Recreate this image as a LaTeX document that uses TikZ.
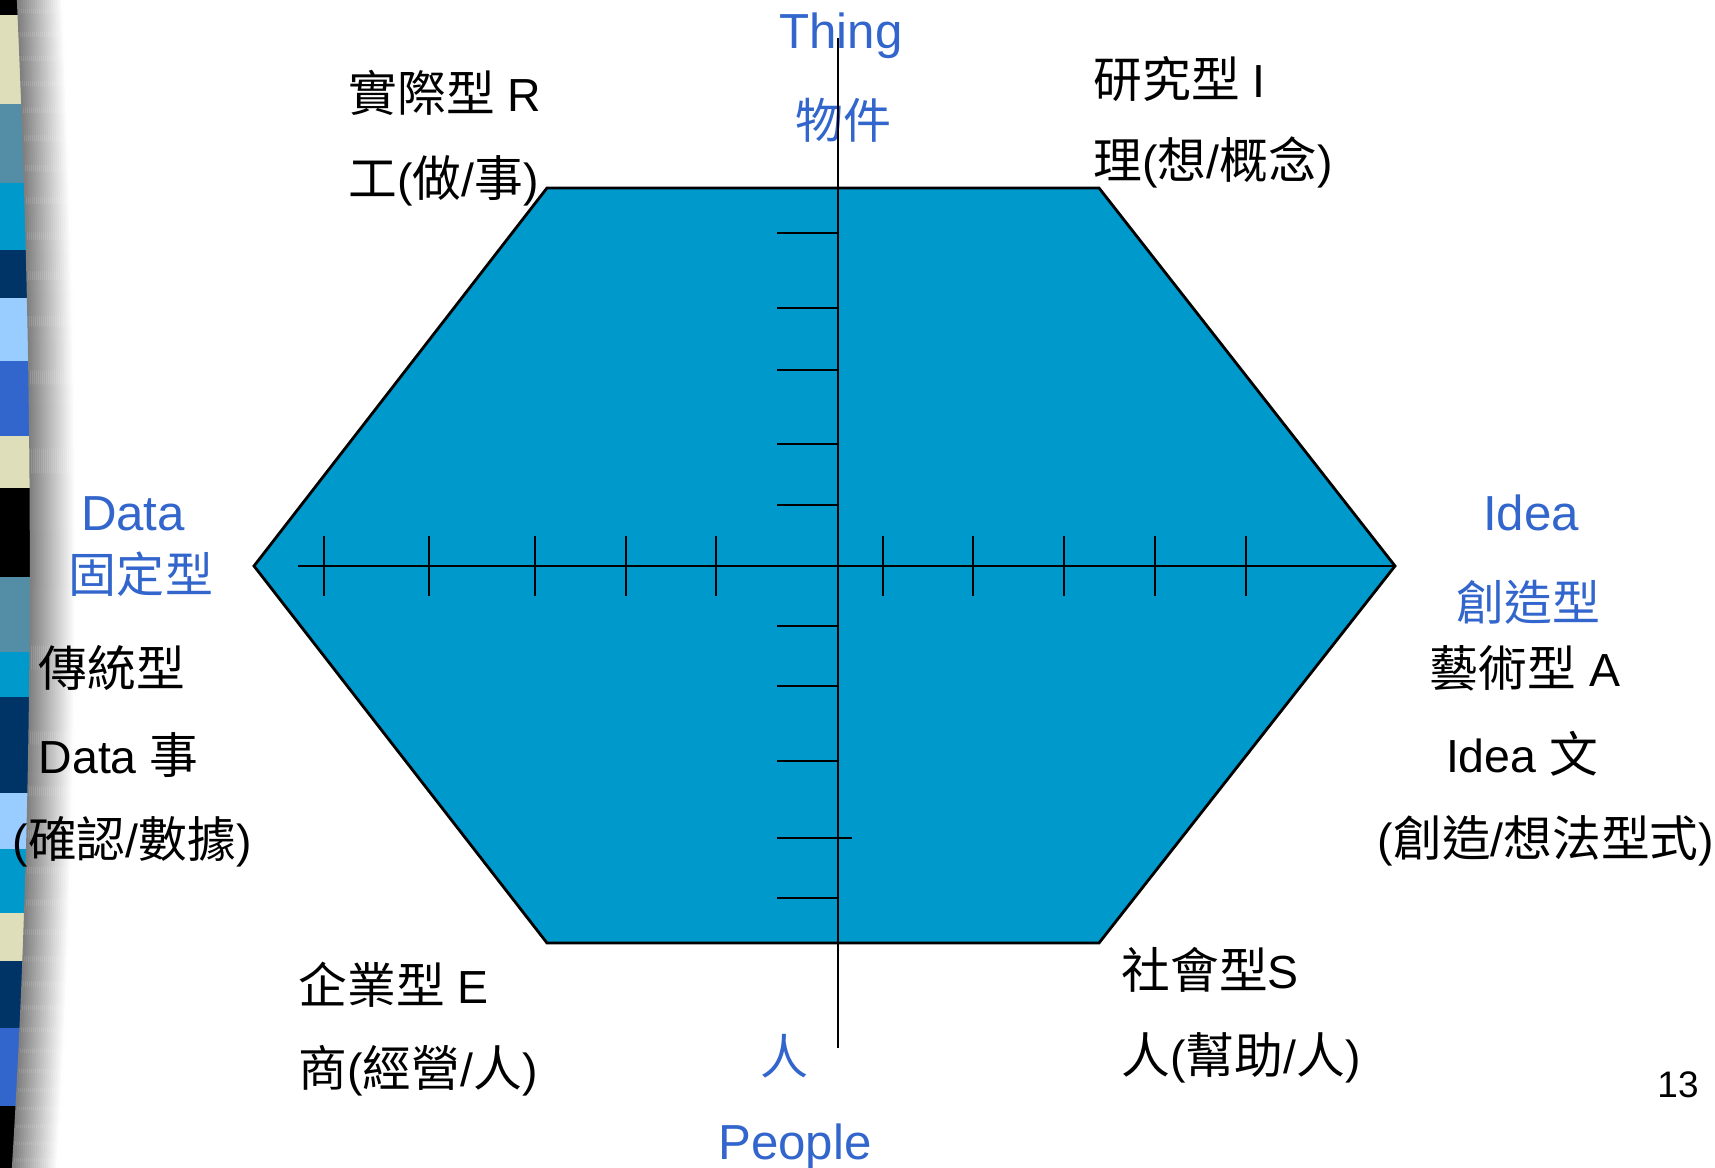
\documentclass[tikz,border=0pt]{standalone}
\usepackage{fontspec}
\setmainfont{Liberation Sans}
\newfontfamily\cjk[Scale=1.05]{Noto Sans CJK TC}
\newcommand{\zh}[1]{{\cjk #1}}
\usetikzlibrary{positioning}
\definecolor{hexblue}{RGB}{0,153,204}
\definecolor{axisblue}{RGB}{51,102,204}
\definecolor{stripbeige}{RGB}{222,222,186}
\definecolor{stripsteel}{RGB}{84,141,166}
\definecolor{stripnavy}{RGB}{0,51,102}
\definecolor{striplight}{RGB}{153,204,255}
\def\hexagon{(547,188) -- (1099,188) -- (1395,566) -- (1099,943) -- (547,943) -- (254,566) -- cycle}
\tikzset{
  lbl/.style = {inner sep=0pt, font=\fontsize{13.2}{15}\selectfont},
  axislbl/.style = {inner sep=0pt, text=axisblue, font=\fontsize{14}{16}\selectfont},
  axiszh/.style = {inner sep=0pt, text=axisblue, font=\fontsize{13}{15}\selectfont},
  tick/.style = {line width=0.6pt}
}

\begin{document}
\begin{tikzpicture}[x=0.01cm, y=-0.01cm]
    % Pagina
    \fill[white] (0,0) rectangle (1715,1168);
    \useasboundingbox (0,0) rectangle (1715,1168);
    % Striscia a sinistra
    \begin{scope}
        \clip (0,0) -- (18,0) .. controls (36,400) and (36,800) .. (13,1168) -- (0,1168) -- cycle;
        \foreach \ya/\yb/\col in {0/15/black, 15/104/stripbeige, 104/183/stripsteel, 183/250/hexblue,
            250/298/stripnavy, 298/361/striplight, 361/436/axisblue, 436/488/stripbeige, 488/577/black,
            577/652/stripsteel, 652/697/hexblue, 697/793/stripnavy, 793/849/striplight, 849/913/hexblue,
            913/961/stripbeige, 961/1028/stripnavy, 1028/1106/axisblue, 1106/1168/black}
            \fill[\col] (0,\ya) rectangle (40,\yb);
    \end{scope}
    % Ombra della striscia
    \foreach \i in {0,...,22}{
        \pgfmathsetmacro{\sh}{50-2.25*\i}
        \draw[black!\sh, line width=0.65pt] ({18+2*\i},0) .. controls ({36+2*\i},400) and ({36+2*\i},800) .. ({13+2*\i},1168);
    }
    % Esagono
    \fill[hexblue] \hexagon;
    \draw[line width=0.8pt] \hexagon;
    % Etichette degli assi
    \node[axislbl, anchor=base] (thing) at (841,49) {Thing};
    \node[axiszh, anchor=center] (thingzh) at (843,120) {\zh{物件}};
    \node[axislbl, anchor=base] (data) at (133,531) {Data};
    \node[axiszh, anchor=center] (datazh) at (141,574) {\zh{固定型}};
    \node[axislbl, anchor=base] (idea) at (1531,531) {Idea};
    \node[axiszh, anchor=center] (ideazh) at (1528,602) {\zh{創造型}};
    \node[axiszh, anchor=center] (peoplezh) at (784,1056) {\zh{人}};
    \node[axislbl, anchor=base] (people) at (795,1160) {People};
    % Assi
    \draw[tick] (298,566) -- (1395,566);
    \draw[tick] (838,38) -- (838,1048);
    \foreach \x in {324,429,535,626,716,883,973,1064,1155,1246}
        \draw[tick] (\x,536) -- (\x,596);
    \foreach \y in {233,308,370,444,505,626,686,761,898}
        \draw[tick] (777,\y) -- (838,\y);
    \draw[tick] (777,838) -- (852,838);
    % Tipi
    \node[lbl, anchor=west] (realistic) at (348,93) {\zh{實際型} R};
    \node[lbl, anchor=west] (realisticsub) at (348,181) {\zh{工}(\zh{做}/\zh{事})};
    \node[lbl, anchor=west] (investigative) at (1093,79) {\zh{研究型} I};
    \node[lbl, anchor=west] (investigativesub) at (1093,162) {\zh{理}(\zh{想}/\zh{概念})};
    \node[lbl, anchor=west] (conventional) at (38,668) {\zh{傳統型}};
    \node[lbl, anchor=west] (conventionaldata) at (38,755) {Data \zh{事}};
    \node[lbl, anchor=west] (conventionalsub) at (12,842) {(\zh{確認}/\zh{數據})};
    \node[lbl, anchor=center] (artistic) at (1525,668) {\zh{藝術型} A};
    \node[lbl, anchor=center] (artisticidea) at (1522,754) {Idea \zh{文}};
    \node[lbl, anchor=center] (artisticsub) at (1546,841) {(\zh{創造}/\zh{想法型式})};
    \node[lbl, anchor=west] (enterprising) at (298,985) {\zh{企業型} E};
    \node[lbl, anchor=west] (enterprisingsub) at (298,1071) {\zh{商}(\zh{經營}/\zh{人})};
    \node[lbl, anchor=west] (social) at (1121,970) {\zh{社會型}S};
    \node[lbl, anchor=west] (socialsub) at (1121,1058) {\zh{人}(\zh{幫助}/\zh{人})};
    % Numero di pagina
    \node[inner sep=0pt, font=\fontsize{10.5}{12}\selectfont] (page) at (1678,1085) {13};
\end{tikzpicture}
\end{document}
